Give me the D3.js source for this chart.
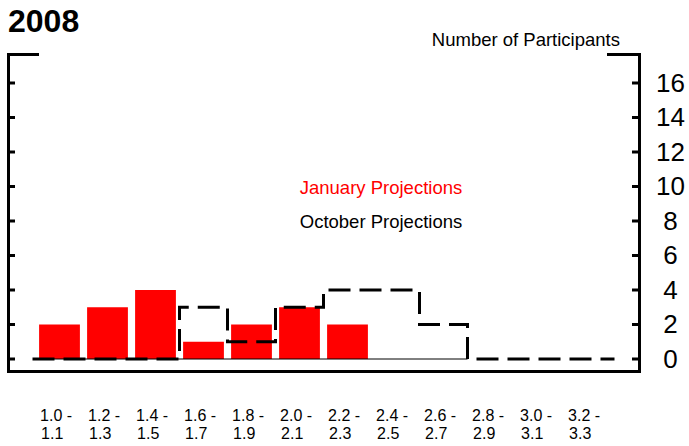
<!DOCTYPE html>
<meta charset="utf-8">
<style>
body { margin: 0; background: #fff; }
text { font-family: "Liberation Sans", Arial, sans-serif; }
</style>
<svg width="689" height="446"></svg>
<script src="https://d3js.org/d3.v7.min.js"></script>
<script>

var categories = ["1.0 -|1.1", "1.2 -|1.3", "1.4 -|1.5", "1.6 -|1.7", "1.8 -|1.9", "2.0 -|2.1",
                  "2.2 -|2.3", "2.4 -|2.5", "2.6 -|2.7", "2.8 -|2.9", "3.0 -|3.1", "3.2 -|3.3"];
var january = [2, 3, 4, 1, 2, 3, 2, 0, 0, 0, 0, 0];
var october = [0, 0, 0, 3, 1, 3, 4, 4, 2, 0, 0, 0];
var yTicks = [0, 2, 4, 6, 8, 10, 12, 14, 16];

var svg = d3.select("svg");

var x = d3.scaleBand()
    .domain(categories)
    .range([35.5, 611.5])
    .paddingInner(0.15)
    .paddingOuter(0.075);

var y = d3.scaleLinear()
    .domain([0, 16])
    .range([359, 83]);

var step = x.step();

// frame
svg.append("path")
    .attr("d", "M39,54.5H8.5V371.5H639.5V54.5H607")
    .attr("fill", "none")
    .attr("stroke", "#000")
    .attr("stroke-width", 3);

// right axis
var yAxisR = svg.append("g")
    .attr("transform", "translate(639.5,0)")
    .call(d3.axisRight(y).tickValues(yTicks).tickSize(0).tickPadding(31));
yAxisR.select(".domain").remove();
yAxisR.selectAll("text")
    .attr("text-anchor", "middle")
    .attr("font-size", 26)
    .attr("font-family", "Liberation Sans, Arial, sans-serif");

svg.append("g").selectAll("line")
    .data(yTicks)
    .enter().append("line")
      .attr("x1", 632).attr("x2", 639)
      .attr("y1", function(d) { return y(d); })
      .attr("y2", function(d) { return y(d); })
      .attr("stroke", "#000").attr("stroke-width", 3);

// left ticks
svg.append("g").selectAll("line")
    .data(yTicks)
    .enter().append("line")
      .attr("x1", 8).attr("x2", 15)
      .attr("y1", function(d) { return y(d); })
      .attr("y2", function(d) { return y(d); })
      .attr("stroke", "#000").attr("stroke-width", 3);

// january bars
svg.append("g").selectAll("rect")
    .data(categories.map(function(c, i) { return { c: c, v: january[i] }; })
      .filter(function(d) { return d.v > 0; }))
    .enter().append("rect")
      .attr("x", function(d) { return x(d.c); })
      .attr("width", x.bandwidth())
      .attr("y", function(d) { return y(d.v); })
      .attr("height", function(d) { return y(0) - y(d.v); })
      .attr("fill", "#ff0000");

// thin baseline under bars
svg.append("line")
    .attr("x1", x(categories[0]) - step * 0.075)
    .attr("x2", x(categories[8]) + x.bandwidth() + step * 0.075)
    .attr("y1", y(0)).attr("y2", y(0))
    .attr("stroke", "#000").attr("stroke-width", 1);

// october step line
var pts = categories.map(function(c, i) {
  return [x(c) - step * 0.075, october[i]];
});
pts.unshift([pts[0][0] - 3, october[0]]);
var lastC = categories[categories.length - 1];
pts.push([x(lastC) + x.bandwidth() + step * 0.075 + 3, october[october.length - 1]]);

var line = d3.line()
    .x(function(d) { return d[0]; })
    .y(function(d) { return y(d[1]); })
    .curve(d3.curveStepAfter);

svg.append("path")
    .datum(pts)
    .attr("d", line)
    .attr("fill", "none")
    .attr("stroke", "#000")
    .attr("stroke-width", 3)
    .attr("stroke-dasharray", "22,9");

// x labels, two lines each
var lab = svg.append("g")
    .attr("font-size", 16)
    .attr("fill", "#000");
lab.selectAll("text.l1")
    .data(categories)
    .enter().append("text")
      .attr("class", "l1")
      .attr("y", 421)
      .attr("x", function(d) { return x(d) + 1; })
      .text(function(d) { return d.split("|")[0]; });
lab.selectAll("text.l2")
    .data(categories)
    .enter().append("text")
      .attr("class", "l2")
      .attr("y", 439)
      .attr("x", function(d) { return x(d) + 2; })
      .text(function(d) { return d.split("|")[1]; });

// titles
svg.append("text")
    .attr("x", 8).attr("y", 32)
    .attr("font-size", 32).attr("font-weight", "bold")
    .text("2008");

svg.append("text")
    .attr("x", 620).attr("y", 46)
    .attr("text-anchor", "end")
    .attr("font-size", 18.5)
    .text("Number of Participants");

// legend
svg.append("text")
    .attr("x", 381).attr("y", 194)
    .attr("text-anchor", "middle")
    .attr("font-size", 18.5)
    .attr("fill", "#ff0000")
    .text("January Projections");

svg.append("text")
    .attr("x", 381).attr("y", 228)
    .attr("text-anchor", "middle")
    .attr("font-size", 18.5)
    .attr("fill", "#000")
    .text("October Projections");

</script>
